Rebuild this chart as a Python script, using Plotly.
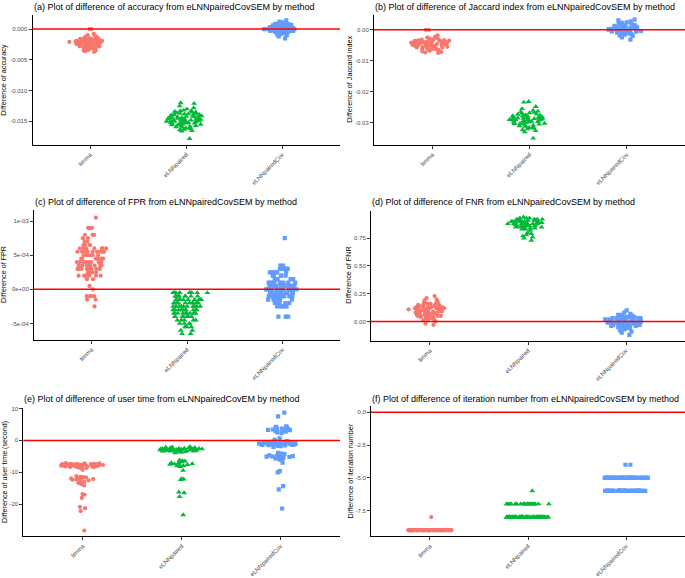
import numpy as np
import plotly.graph_objects as go

methods = ["limma", "eLNNpaired", "eLNNpairedCov"]
colors = ["#F8766D", "#00BA38", "#619CFF"]
symbols = ["circle", "triangle-up", "square"]
msizes = [4.2, 5.2, 4.2]

# ---------------- (a) accuracy ----------------
a_limma = [0.0000, 0.0000, -0.0008, -0.0010, -0.0011, -0.0012, -0.0013, -0.0014, -0.0014, -0.0015,
           -0.0015, -0.0016, -0.0016, -0.0016, -0.0017, -0.0017, -0.0017, -0.0018, -0.0018, -0.0018,
           -0.0018, -0.0019, -0.0019, -0.0019, -0.0019, -0.0020, -0.0020, -0.0020, -0.0020, -0.0020,
           -0.0021, -0.0021, -0.0021, -0.0021, -0.0021, -0.0021, -0.0022, -0.0022, -0.0022, -0.0022,
           -0.0022, -0.0022, -0.0023, -0.0023, -0.0023, -0.0023, -0.0023, -0.0024, -0.0024, -0.0024,
           -0.0024, -0.0024, -0.0025, -0.0025, -0.0025, -0.0025, -0.0026, -0.0026, -0.0026, -0.0026,
           -0.0027, -0.0027, -0.0027, -0.0028, -0.0028, -0.0028, -0.0029, -0.0029, -0.0030, -0.0030,
           -0.0031, -0.0031, -0.0032, -0.0033, -0.0034, -0.0035, -0.0035, -0.0036, -0.0037]
a_elnn = [-0.0120, -0.0121, -0.0125, -0.0128, -0.0130, -0.0132, -0.0133, -0.0133, -0.0134, -0.0135,
          -0.0135, -0.0136, -0.0137, -0.0137, -0.0138, -0.0138, -0.0139, -0.0139, -0.0140, -0.0140,
          -0.0141, -0.0141, -0.0142, -0.0142, -0.0143, -0.0143, -0.0144, -0.0144, -0.0144, -0.0145,
          -0.0145, -0.0145, -0.0146, -0.0146, -0.0146, -0.0147, -0.0147, -0.0147, -0.0148, -0.0148,
          -0.0148, -0.0149, -0.0149, -0.0149, -0.0150, -0.0150, -0.0150, -0.0151, -0.0151, -0.0151,
          -0.0152, -0.0152, -0.0152, -0.0153, -0.0153, -0.0154, -0.0154, -0.0155, -0.0155, -0.0156,
          -0.0156, -0.0157, -0.0158, -0.0158, -0.0159, -0.0160, -0.0160, -0.0161, -0.0162, -0.0163,
          -0.0164, -0.0165, -0.0166, -0.0178]
a_cov = [0.0014, 0.0012, 0.0011, 0.0010, 0.0009, 0.0008, 0.0008, 0.0007, 0.0007, 0.0006,
         0.0006, 0.0005, 0.0005, 0.0005, 0.0004, 0.0004, 0.0004, 0.0003, 0.0003, 0.0003,
         0.0003, 0.0002, 0.0002, 0.0002, 0.0002, 0.0001, 0.0001, 0.0001, 0.0001, 0.0001,
         0.0000, 0.0000, 0.0000, 0.0000, 0.0000, 0.0000, 0.0000, -0.0001, -0.0001, -0.0001,
         -0.0001, -0.0001, -0.0002, -0.0002, -0.0002, -0.0002, -0.0003, -0.0003, -0.0003, -0.0004,
         -0.0004, -0.0004, -0.0005, -0.0005, -0.0006, -0.0006, -0.0007, -0.0008, -0.0009, -0.0010,
         -0.0012, -0.0015]

# ---------------- (b) Jaccard ----------------
b_limma = [0.0000, 0.0000, -0.0018, -0.0022, -0.0025, -0.0027, -0.0028, -0.0030, -0.0031, -0.0032,
           -0.0033, -0.0034, -0.0035, -0.0035, -0.0036, -0.0037, -0.0037, -0.0038, -0.0038, -0.0039,
           -0.0039, -0.0040, -0.0040, -0.0041, -0.0041, -0.0042, -0.0042, -0.0043, -0.0043, -0.0044,
           -0.0044, -0.0045, -0.0045, -0.0046, -0.0046, -0.0047, -0.0047, -0.0048, -0.0048, -0.0049,
           -0.0049, -0.0050, -0.0050, -0.0051, -0.0051, -0.0052, -0.0052, -0.0053, -0.0053, -0.0054,
           -0.0055, -0.0055, -0.0056, -0.0057, -0.0058, -0.0059, -0.0060, -0.0061, -0.0062, -0.0063,
           -0.0064, -0.0066, -0.0068, -0.0070, -0.0072, -0.0073, -0.0075]
b_elnn = [-0.0232, -0.0234, -0.0248, -0.0255, -0.0260, -0.0263, -0.0265, -0.0267, -0.0268, -0.0270,
          -0.0272, -0.0273, -0.0275, -0.0276, -0.0277, -0.0278, -0.0279, -0.0280, -0.0281, -0.0282,
          -0.0283, -0.0284, -0.0284, -0.0285, -0.0286, -0.0287, -0.0288, -0.0288, -0.0289, -0.0290,
          -0.0290, -0.0291, -0.0292, -0.0293, -0.0293, -0.0294, -0.0295, -0.0296, -0.0297, -0.0298,
          -0.0299, -0.0300, -0.0301, -0.0302, -0.0303, -0.0304, -0.0305, -0.0307, -0.0308, -0.0310,
          -0.0312, -0.0314, -0.0316, -0.0318, -0.0320, -0.0323, -0.0326, -0.0330, -0.0350]
b_cov = [0.0033, 0.0030, 0.0027, 0.0024, 0.0022, 0.0020, 0.0018, 0.0017, 0.0015, 0.0014,
         0.0013, 0.0012, 0.0011, 0.0010, 0.0009, 0.0008, 0.0007, 0.0007, 0.0006, 0.0005,
         0.0005, 0.0004, 0.0003, 0.0003, 0.0002, 0.0002, 0.0001, 0.0001, 0.0000, 0.0000,
         0.0000, 0.0000, -0.0001, -0.0001, -0.0002, -0.0002, -0.0003, -0.0003, -0.0004, -0.0005,
         -0.0005, -0.0006, -0.0007, -0.0008, -0.0009, -0.0010, -0.0011, -0.0012, -0.0014, -0.0016,
         -0.0018, -0.0020, -0.0025, -0.0032]

# ---------------- (c) FPR (value, count) ----------------
c_limma_vals = [1.05e-3, 9e-4, 8e-4, 7.5e-4, 7e-4, 6.5e-4, 6e-4, 5.5e-4, 5e-4, 4.5e-4, 4e-4,
                3.5e-4, 3e-4, 2.5e-4, 2e-4, 1.5e-4, 5e-5, 0.0, -1e-4, -1.5e-4, -2.5e-4]
c_limma_cnts = [1, 3, 4, 2, 2, 4, 7, 9, 5, 6, 9, 11, 8, 5, 7, 2, 1, 1, 4, 2, 1]
c_elnn_vals = [-5e-5, -1e-4, -1.5e-4, -2e-4, -2.5e-4, -3e-4, -3.5e-4, -4e-4, -4.5e-4, -5e-4,
               -5.5e-4, -6e-4, -6.5e-4]
c_elnn_cnts = [12, 8, 10, 12, 10, 10, 10, 8, 5, 4, 3, 2, 2]
c_cov_vals = [7.5e-4, 3.5e-4, 3e-4, 2.5e-4, 2e-4, 1.5e-4, 1e-4, 5e-5, 0.0, -5e-5, -1e-4,
              -1.5e-4, -2e-4, -2.5e-4, -4e-4]
c_cov_cnts = [1, 2, 6, 6, 5, 5, 7, 10, 14, 8, 14, 6, 5, 5, 3]

# ---------------- (d) FNR ----------------
d_limma = [0.23, 0.21, 0.20, 0.19, 0.18, 0.17, 0.17, 0.16, 0.16, 0.16, 0.15, 0.15, 0.15, 0.14,
           0.14, 0.14, 0.14, 0.13, 0.13, 0.13, 0.13, 0.13, 0.12, 0.12, 0.12, 0.12, 0.12, 0.12,
           0.11, 0.11, 0.11, 0.11, 0.11, 0.11, 0.10, 0.10, 0.10, 0.10, 0.10, 0.10, 0.10, 0.09,
           0.09, 0.09, 0.09, 0.09, 0.09, 0.08, 0.08, 0.08, 0.08, 0.08, 0.07, 0.07, 0.07, 0.07,
           0.07, 0.06, 0.06, 0.06, 0.06, 0.05, 0.05, 0.05, 0.05, 0.04, 0.04, 0.04, 0.03, 0.03,
           0.03, 0.02, 0.02, 0.01, 0.00, -0.02, -0.03]
d_elnn = [0.94, 0.93, 0.93, 0.93, 0.92, 0.92, 0.92, 0.92, 0.91, 0.91, 0.91, 0.91, 0.91, 0.90,
          0.90, 0.90, 0.90, 0.90, 0.90, 0.89, 0.89, 0.89, 0.89, 0.89, 0.89, 0.89, 0.88, 0.88,
          0.88, 0.88, 0.88, 0.88, 0.88, 0.87, 0.87, 0.87, 0.87, 0.87, 0.87, 0.86, 0.86, 0.86,
          0.86, 0.86, 0.85, 0.85, 0.85, 0.85, 0.84, 0.84, 0.84, 0.83, 0.83, 0.82, 0.80, 0.79,
          0.78, 0.77, 0.76, 0.75, 0.73]
d_cov = [0.10, 0.08, 0.07, 0.06, 0.06, 0.05, 0.05, 0.05, 0.04, 0.04, 0.04, 0.04, 0.03, 0.03,
         0.03, 0.03, 0.03, 0.02, 0.02, 0.02, 0.02, 0.02, 0.02, 0.01, 0.01, 0.01, 0.01, 0.01,
         0.01, 0.01, 0.00, 0.00, 0.00, 0.00, 0.00, 0.00, 0.00, 0.00, -0.01, -0.01, -0.01, -0.01,
         -0.01, -0.01, -0.01, -0.02, -0.02, -0.02, -0.02, -0.02, -0.02, -0.03, -0.03, -0.03,
         -0.03, -0.03, -0.04, -0.04, -0.04, -0.04, -0.05, -0.05, -0.05, -0.06, -0.06, -0.07,
         -0.08, -0.09, -0.10, -0.12]

# ---------------- (e) user time ----------------
e_limma = [-7.1, -7.2, -7.2, -7.3, -7.3, -7.3, -7.4, -7.4, -7.4, -7.5, -7.5, -7.5, -7.5, -7.6,
           -7.6, -7.6, -7.6, -7.7, -7.7, -7.7, -7.7, -7.7, -7.8, -7.8, -7.8, -7.8, -7.8, -7.9,
           -7.9, -7.9, -7.9, -8.0, -8.0, -8.0, -8.0, -8.1, -8.1, -8.1, -8.2, -8.2, -8.2, -8.3,
           -8.3, -8.4, -8.5, -8.6, -8.7, -9.2, -11.2, -11.4, -11.5, -11.6, -11.7, -11.8, -11.9,
           -12.0, -12.1, -12.2, -12.3, -12.5, -12.7, -13.0, -13.3, -13.6, -14.1, -16.8, -17.0,
           -18.0, -20.8, -21.2, -22.1, -28.2]
e_elnn = [-2.0, -2.1, -2.2, -2.3, -2.3, -2.4, -2.4, -2.5, -2.5, -2.5, -2.6, -2.6, -2.6, -2.7,
          -2.7, -2.7, -2.8, -2.8, -2.8, -2.8, -2.9, -2.9, -2.9, -2.9, -3.0, -3.0, -3.0, -3.0,
          -3.1, -3.1, -3.1, -3.1, -3.2, -3.2, -3.2, -3.3, -3.3, -3.3, -3.4, -3.4, -3.5, -3.5,
          -3.6, -3.7, -3.9, -6.2, -6.4, -6.5, -6.7, -6.8, -7.0, -7.1, -7.3, -7.4, -7.5, -7.6,
          -7.8, -7.9, -8.0, -8.2, -9.4, -12.0, -12.1, -12.3, -16.2, -16.4, -17.6, -23.3]
e_cov = [8.7, 7.5, 4.4, 4.2, 4.0, 3.9, 3.8, 3.7, 3.6, 3.5, 3.4, 3.3, 3.2, 3.1, 2.9, 2.7, 2.5,
         2.3, 0.6, 0.2, -0.2, -0.4, -0.5, -0.6, -0.6, -0.7, -0.7, -0.8, -0.8, -0.8, -0.9, -0.9,
         -0.9, -1.0, -1.0, -1.0, -1.0, -1.1, -1.1, -1.1, -1.2, -1.2, -1.2, -1.3, -1.3, -1.3,
         -1.4, -1.4, -1.5, -1.5, -1.6, -1.7, -1.8, -2.0, -3.9, -4.1, -4.3, -4.5, -4.6, -4.7,
         -4.8, -4.9, -5.0, -5.1, -5.2, -5.3, -5.5, -5.6, -5.7, -5.9, -6.1, -7.0, -9.6, -10.0,
         -14.3, -15.3, -21.3]

# ---------------- (f) iteration number (value, count) ----------------
f_limma_vals = [-8, -9]
f_limma_cnts = [1, 99]
f_elnn_vals = [-6, -7, -8]
f_elnn_cnts = [1, 25, 74]
f_cov_vals = [-4, -5, -6]
f_cov_cnts = [2, 50, 48]


def expand(vals, cnts):
    return list(np.repeat(vals, cnts))


titles = [
    "(a) Plot of difference of accuracy from eLNNpairedCovSEM by method",
    "(b) Plot of difference of Jaccard index from eLNNpairedCovSEM by method",
    "(c) Plot of difference of FPR from eLNNpairedCovSEM by method",
    "(d) Plot of difference of FNR from eLNNpairedCovSEM by method",
    "(e) Plot of difference of user time from eLNNpairedCovEM by method",
    "(f) Plot of difference of iteration number from eLNNpairedCovSEM by method",
]
ytitles = ["Difference of accuracy", "Difference of Jaccard index", "Difference of FPR",
           "Difference of FNR", "Difference of user time (second)", "Difference of iteration number"]
tickvals = [[0, -0.005, -0.010, -0.015], [0, -0.01, -0.02, -0.03], [1e-3, 5e-4, 0, -5e-4],
            [0.75, 0.5, 0.25, 0], [10, 0, -10, -20], [0, -2.5, -5, -7.5]]
ticktexts = [["0.000", "-0.005", "-0.010", "-0.015"], ["0.00", "-0.01", "-0.02", "-0.03"],
             ["1e-03", "5e-04", "0e+00", "-5e-04"], ["0.75", "0.50", "0.25", "0.00"],
             ["10", "0", "-10", "-20"], ["0.0", "-2.5", "-5.0", "-7.5"]]
yranges = [[-0.0188, 0.0023], [-0.0371, 0.0048], [-7.38e-4, 1.16e-3], [-0.173, 0.996],
           [-30.0, 10.2], [-9.47, 0.45]]

data = [
    [a_limma, a_elnn, a_cov],
    [b_limma, b_elnn, b_cov],
    [expand(c_limma_vals, c_limma_cnts), expand(c_elnn_vals, c_elnn_cnts), expand(c_cov_vals, c_cov_cnts)],
    [d_limma, d_elnn, d_cov],
    [e_limma, e_elnn, e_cov],
    [expand(f_limma_vals, f_limma_cnts), expand(f_elnn_vals, f_elnn_cnts), expand(f_cov_vals, f_cov_cnts)],
]

W, H = 685, 578
# panel boxes in pixels: left, right, top, bottom ; title y ; ytitle x
boxes = [
    (32.5, 340, 13, 144, 5, 4),
    (374, 685, 13, 144, 5, 350),
    (34, 340, 210, 340.7, 202, 4),
    (371, 685, 210.7, 341.7, 202, 349),
    (23.3, 340, 409.3, 539, 400, 4),
    (371, 685, 408, 539, 400, 350),
]

FONT = "Liberation Sans, Arial, sans-serif"
fig = go.Figure()
layout = dict(width=W, height=H, margin=dict(l=0, r=0, t=0, b=0, pad=0),
              paper_bgcolor="white", plot_bgcolor="white", showlegend=False,
              font=dict(family=FONT, color="black"), boxmode="overlay")
annotations = []
shapes = []

for k in range(6):
    xs = "x" if k == 0 else f"x{k+1}"
    ys = "y" if k == 0 else f"y{k+1}"
    xl = "xaxis" if k == 0 else f"xaxis{k+1}"
    yl = "yaxis" if k == 0 else f"yaxis{k+1}"
    L, R, T, B, ty, yx = boxes[k]
    for j, m in enumerate(methods):
        yv = data[k][j]
        fig.add_trace(go.Box(
            x=[m] * len(yv), y=yv, name=m, boxpoints="all", jitter=1.0, pointpos=0,
            width=0.44, fillcolor="rgba(0,0,0,0)",
            line=dict(color="rgba(0,0,0,0)", width=0),
            marker=dict(color=colors[j], symbol=symbols[j], size=msizes[j],
                        line=dict(width=0)),
            hoveron="points", xaxis=xs, yaxis=ys, showlegend=False))
    layout[xl] = dict(domain=[L / W, R / W], anchor=ys, type="category",
                      categoryorder="array", categoryarray=methods, range=[-0.6, 2.6],
                      showline=True, linecolor="black", linewidth=1, ticks="outside",
                      ticklen=3, tickcolor="#333333", tickwidth=1, tickangle=-45,
                      tickfont=dict(size=6, color="#4D4D4D", family=FONT),
                      showgrid=False, zeroline=False)
    layout[yl] = dict(domain=[1 - B / H, 1 - T / H], anchor=xs, range=yranges[k],
                      tickmode="array", tickvals=tickvals[k], ticktext=ticktexts[k],
                      showline=True, linecolor="black", linewidth=1, ticks="outside",
                      ticklen=3, tickcolor="#333333", tickwidth=1,
                      tickfont=dict(size=6, color="#4D4D4D", family=FONT),
                      showgrid=False, zeroline=False)
    annotations.append(dict(text=titles[k], xref="paper", yref="paper", x=L / W, y=1 - ty / H,
                            xanchor="left", yanchor="middle", align="left", showarrow=False,
                            borderpad=0,
                            font=dict(size=9, color="black", family=FONT)))
    annotations.append(dict(text=ytitles[k], xref="paper", yref="paper", x=yx / W,
                            y=1 - (T + B) / 2 / H, xanchor="center", yanchor="middle",
                            textangle=-90, showarrow=False, borderpad=0,
                            font=dict(size=7.2, color="black", family=FONT)))
    shapes.append(dict(type="line", xref=f"{xs} domain", yref=ys, x0=0, x1=1, y0=0, y1=0,
                       line=dict(color="#FF0000", width=1.5), layer="above"))

layout["annotations"] = annotations
layout["shapes"] = shapes
fig.update_layout(**layout)
fig.write_html("out.html", config={"displayModeBar": False},
               post_script="document.body.style.margin='0';document.body.style.padding='0';")
